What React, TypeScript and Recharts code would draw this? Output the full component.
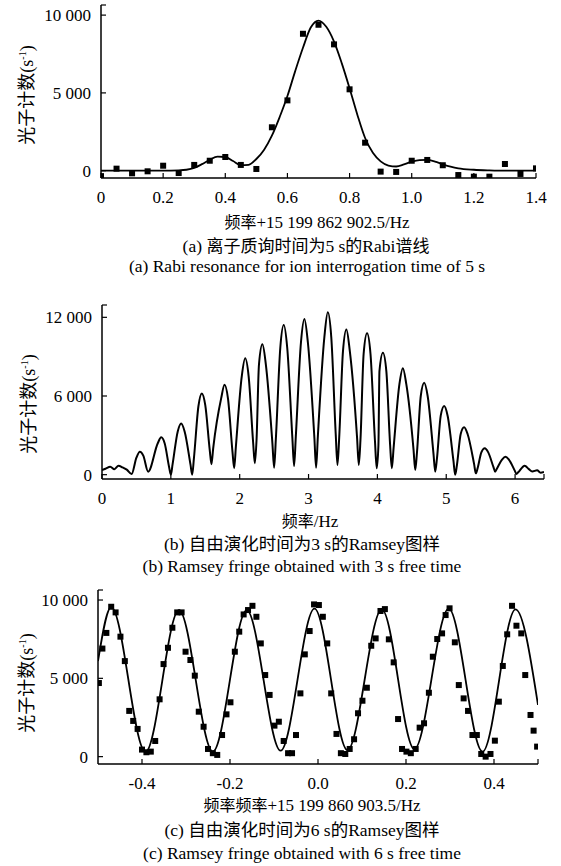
import React from "react";
import { ComposedChart, Line, Scatter, XAxis, YAxis } from "recharts";

const SERIF = "'Liberation Serif', 'Noto Sans CJK SC', serif";
const CJK = "'Noto Sans CJK SC', 'Liberation Serif', sans-serif";

// (a) Rabi 谱线
const A_PT_FREQ = [0, 0.05, 0.1, 0.15, 0.2, 0.25, 0.3, 0.35, 0.4, 0.45, 0.5, 0.55, 0.6, 0.65, 0.7, 0.75, 0.8, 0.85, 0.9, 0.95, 1.0, 1.05, 1.1, 1.15, 1.2, 1.25, 1.3, 1.35, 1.4];
const A_PT_COUNT = [-350, 130, -170, -40, 320, -150, 370, 640, 880, 370, 110, 2790, 4520, 8800, 9380, 8120, 5230, 1800, -60, -80, 640, 690, 350, -280, -385, -385, 430, -210, 150];
const A_FIT_FREQ = [0, 0.1, 0.2, 0.25, 0.275, 0.3, 0.325, 0.35, 0.375, 0.4, 0.425, 0.45, 0.475, 0.5, 0.525, 0.55, 0.575, 0.6, 0.625, 0.65, 0.675, 0.7, 0.725, 0.75, 0.775, 0.8, 0.825, 0.85, 0.875, 0.9, 0.925, 0.95, 0.975, 1.0, 1.025, 1.05, 1.075, 1.1, 1.125, 1.15, 1.2, 1.25, 1.3, 1.4];
const A_FIT_COUNT = [0, 0, 0, 20, 60, 180, 420, 700, 900, 880, 620, 360, 380, 750, 1350, 2250, 3450, 4800, 6400, 7900, 9200, 9650, 9250, 8300, 6900, 5300, 3600, 2100, 1150, 600, 330, 270, 400, 580, 680, 690, 580, 410, 260, 150, 60, 20, 0, 0];
const A_X_TICKS = [0, 0.2, 0.4, 0.6, 0.8, 1.0, 1.2, 1.4];
const A_Y_TICKS = [0, 5000, 10000];

// (b) Ramsey 3 s
const B_FREQ = [
  0, 0.05, 0.12, 0.18, 0.24, 0.3, 0.36, 0.43,
  0.5, 0.55, 0.6, 0.67,
  0.81, 0.86, 0.91, 0.975, 1.0, 1.025,
  1.1, 1.15, 1.2, 1.285, 1.31, 1.335,
  1.4, 1.45, 1.5, 1.565, 1.59, 1.615,
  1.73, 1.78, 1.83, 1.895, 1.92, 1.945,
  2.03, 2.08, 2.13, 2.195, 2.22, 2.245,
  2.28, 2.33, 2.38, 2.475, 2.5, 2.525,
  2.59, 2.64, 2.69, 2.765, 2.79, 2.815,
  2.89, 2.94, 2.99, 3.085, 3.11, 3.135,
  3.23, 3.28, 3.33, 3.395, 3.42, 3.445,
  3.5, 3.55, 3.6, 3.705, 3.73, 3.755,
  3.8, 3.85, 3.9, 3.965, 3.99, 4.015,
  4.03, 4.08, 4.13, 4.185, 4.21, 4.235,
  4.32, 4.37, 4.42, 4.525, 4.55, 4.575,
  4.63, 4.68, 4.73, 4.815, 4.84, 4.865,
  4.92, 4.97, 5.02, 5.105, 5.13, 5.155,
  5.21, 5.26, 5.31, 5.405, 5.43, 5.455,
  5.51, 5.56, 5.61, 5.685, 5.71, 5.735,
  5.81, 5.86, 5.91, 5.995, 6.02, 6.045,
  6.14, 6.2, 6.25, 6.32, 6.37, 6.42,
];
const B_COUNT = [
  350, 450, 610, 420, 690, 550, 380, 50,
  1300, 1750, 1450, 230,
  2400, 2850, 2400, 570, 0, 780,
  3300, 3900, 3300, 780, 0, 1240,
  5200, 6200, 5300, 1880, 800, 2010,
  5800, 6850, 5800, 1760, 490, 2170,
  7500, 8870, 7500, 2470, 870, 2680,
  8400, 9940, 8400, 2410, 530, 2710,
  9700, 11410, 9700, 2810, 660, 2900,
  10100, 11870, 10100, 2800, 530, 2900,
  10500, 12380, 10500, 3070, 740, 2810,
  9400, 11080, 9400, 2810, 740, 2750,
  9200, 10780, 9200, 2550, 490, 2250,
  7900, 9300, 7900, 2250, 490, 2010,
  6900, 8110, 6900, 1910, 360, 1690,
  6000, 7010, 6000, 1590, 230, 1230,
  4500, 5240, 4500, 1050, 0, 720,
  3100, 3610, 3100, 800, 100, 480,
  1700, 2010, 1700, 590, 230, 460,
  1150, 1370, 1150, 310, 50, 180,
  690, 420, 250, 330, 150, 200,
];
const B_X_TICKS = [0, 1, 2, 3, 4, 5, 6];
const B_Y_TICKS = [0, 6000, 12000];

// (c) Ramsey 6 s
const C_PT_FREQ = [-0.498, -0.49, -0.481, -0.47, -0.46, -0.449, -0.439, -0.429, -0.42, -0.41, -0.4, -0.39, -0.38, -0.37, -0.36, -0.351, -0.341, -0.331, -0.32, -0.31, -0.301, -0.29, -0.28, -0.271, -0.26, -0.25, -0.239, -0.229, -0.218, -0.208, -0.199, -0.189, -0.179, -0.169, -0.159, -0.149, -0.14, -0.13, -0.12, -0.11, -0.099, -0.089, -0.078, -0.068, -0.059, -0.05, -0.04, -0.03, -0.019, -0.009, 0.002, 0.011, 0.021, 0.03, 0.042, 0.052, 0.062, 0.072, 0.082, 0.091, 0.101, 0.111, 0.121, 0.131, 0.142, 0.152, 0.161, 0.172, 0.182, 0.191, 0.201, 0.211, 0.222, 0.231, 0.241, 0.252, 0.261, 0.271, 0.282, 0.29, 0.299, 0.311, 0.32, 0.331, 0.341, 0.351, 0.361, 0.371, 0.381, 0.392, 0.402, 0.411, 0.42, 0.43, 0.441, 0.451, 0.462, 0.471, 0.483, 0.49, 0.498];
const C_PT_COUNT = [4700, 6900, 7900, 9570, 9210, 7660, 6100, 2920, 2280, 1770, 450, 280, 320, 1000, 3660, 5910, 6950, 8230, 9210, 9210, 6700, 6170, 5170, 2870, 1910, 490, 220, 110, 1380, 2700, 3470, 6700, 7980, 9080, 9360, 9630, 8930, 7230, 5210, 3940, 1980, 2230, 1000, 220, 220, 1380, 4040, 6530, 8020, 9720, 9680, 8930, 7230, 4040, 1450, 220, 170, 490, 1110, 2770, 3570, 4400, 7080, 7550, 9300, 9420, 7490, 6020, 2400, 490, 320, 220, 490, 1850, 2130, 4080, 6380, 7510, 7870, 9040, 9470, 7300, 4570, 3720, 2920, 1380, 1380, 170, 0, 170, 1020, 3510, 5790, 7810, 9630, 8360, 7870, 5210, 2660, 1660, 640];
const C_FIT_FREQ = [-0.5, -0.47, -0.392, -0.316, -0.239, -0.162, -0.085, -0.008, 0.067, 0.145, 0.219, 0.297, 0.374, 0.449, 0.5];
const C_FIT_COUNT = [6100, 9550, 300, 9350, 320, 9350, 380, 9450, 420, 9400, 480, 9450, 320, 9400, 3300];
const C_X_TICKS = [-0.4, -0.2, 0, 0.2, 0.4];
const C_Y_TICKS = [0, 5000, 10000];

const zip = (xs: number[], ys: number[]) => xs.map((x, i) => ({ x, y: ys[i] }));

const fmtThousands = (v: number) =>
  v >= 1000 ? `${Math.floor(v / 1000)} ${String(v % 1000).padStart(3, "0")}` : String(v);

const tickStyle = { fontFamily: SERIF, fontSize: 17, fill: "#000", style: { fontFamily: SERIF } };
const axisLine = { stroke: "#000", strokeWidth: 1.5 };

const Square = (p: any) => (
  <rect x={p.cx - 3} y={p.cy - 3} width={6} height={6} fill="#000" />
);

const YTitle = ({ cx, cy }: { cx: number; cy: number }) => (
  <div
    style={{
      position: "absolute",
      left: cx - 80,
      top: cy - 12,
      width: 160,
      height: 24,
      textAlign: "center",
      transform: "rotate(-90deg)",
      fontFamily: CJK,
      fontSize: 18,
      lineHeight: "24px",
      whiteSpace: "nowrap",
    }}
  >
    光子计数<span style={{ fontFamily: SERIF }}>(s<sup style={{ fontSize: 10 }}>-1</sup>)</span>
  </div>
);

const TextLine = ({ cx, cy, size, children }: { cx: number; cy: number; size: number; children: React.ReactNode }) => (
  <div
    style={{
      position: "absolute",
      left: cx - 280,
      top: cy - 10,
      width: 560,
      height: 20,
      lineHeight: "20px",
      textAlign: "center",
      fontFamily: SERIF,
      fontSize: size,
      whiteSpace: "nowrap",
    }}
  >
    {children}
  </div>
);

const Zh = ({ children, size }: { children: React.ReactNode; size?: number }) => (
  <span style={{ fontFamily: CJK, fontSize: size }}>{children}</span>
);

function Panel({
  top, height, margin, yWidth, xDomain, yDomain, xTicks, yTicks, xFmt, fit, pts, lineWidth,
}: any) {
  const yMax = yDomain[1];
  const xMax = xDomain[1];
  return (
    <div style={{ position: "absolute", left: 0, top, fontFamily: SERIF }}>
      <ComposedChart width={561} height={height} margin={margin}>
        <XAxis
          type="number"
          dataKey="x"
          domain={xDomain}
          allowDataOverflow
          ticks={xTicks.includes(xMax) ? xTicks : [...xTicks, xMax]}
          tickFormatter={(v: number) => (v === xMax && !xTicks.includes(xMax) ? "" : xFmt(v))}
          tick={tickStyle}
          tickSize={-5}
          tickMargin={18}
          tickLine={{ stroke: "#000", strokeWidth: 1.2 }}
          axisLine={axisLine}
          height={30}
          interval={0}
        />
        <YAxis
          type="number"
          dataKey="y"
          domain={yDomain}
          allowDataOverflow
          ticks={[...yTicks, yMax]}
          tickFormatter={(v: number) => (v === yMax ? "" : fmtThousands(v))}
          tick={tickStyle}
          tickSize={-5}
          tickMargin={15}
          tickLine={{ stroke: "#000", strokeWidth: 1.2 }}
          axisLine={axisLine}
          width={yWidth}
          interval={0}
        />
        <Line
          data={fit}
          dataKey="y"
          type="monotone"
          stroke="#000"
          strokeWidth={lineWidth}
          dot={false}
          isAnimationActive={false}
        />
        {pts && (
          <Scatter data={pts} dataKey="y" shape={Square} isAnimationActive={false} />
        )}
      </ComposedChart>
    </div>
  );
}

export default function App() {
  return (
    <div style={{ position: "absolute", left: 0, top: 0, width: 561, height: 866, background: "#fff", overflow: "hidden" }}>
      <Panel
        top={0}
        height={215}
        margin={{ top: 5, right: 25, left: 10, bottom: 7 }}
        yWidth={91}
        xDomain={[0, 1.4]}
        yDomain={[-470, 10650]}
        xTicks={A_X_TICKS}
        yTicks={A_Y_TICKS}
        xFmt={(v: number) => (v === 0 ? "0" : v.toFixed(1))}
        fit={zip(A_FIT_FREQ, A_FIT_COUNT)}
        pts={zip(A_PT_FREQ, A_PT_COUNT)}
        lineWidth={1.8}
      />
      <YTitle cx={23} cy={95} />
      <TextLine cx={317} cy={221} size={17}><Zh size={16}>频率</Zh>+15 199 862 902.5/Hz</TextLine>
      <TextLine cx={306} cy={245} size={17.5}>(a) <Zh size={17}>离子质询时间为</Zh>5 s<Zh size={17}>的</Zh>Rabi<Zh size={17}>谱线</Zh></TextLine>
      <TextLine cx={307} cy={266} size={17.5}>(a) Rabi resonance for ion interrogation time of 5 s</TextLine>

      <Panel
        top={300}
        height={215}
        margin={{ top: 5, right: 17, left: 10, bottom: 6 }}
        yWidth={92}
        xDomain={[0, 6.42]}
        yDomain={[-330, 12940]}
        xTicks={B_X_TICKS}
        yTicks={B_Y_TICKS}
        xFmt={(v: number) => String(v)}
        fit={zip(B_FREQ, B_COUNT)}
        pts={null}
        lineWidth={2}
      />
      <YTitle cx={25} cy={404} />
      <TextLine cx={310} cy={520} size={17}><Zh size={16}>频率</Zh>/Hz</TextLine>
      <TextLine cx={302} cy={543} size={17.5}>(b) <Zh>自由演化时间为</Zh>3 s<Zh>的</Zh>Ramsey<Zh>图样</Zh></TextLine>
      <TextLine cx={302} cy={566} size={17.5}>(b) Ramsey fringe obtained with 3 s free time</TextLine>

      <Panel
        top={585}
        height={215}
        margin={{ top: 5, right: 23, left: 10, bottom: 6 }}
        yWidth={88}
        xDomain={[-0.5, 0.5]}
        yDomain={[-470, 10640]}
        xTicks={C_X_TICKS}
        yTicks={C_Y_TICKS}
        xFmt={(v: number) => v.toFixed(1)}
        fit={zip(C_FIT_FREQ, C_FIT_COUNT)}
        pts={zip(C_PT_FREQ, C_PT_COUNT)}
        lineWidth={1.8}
      />
      <YTitle cx={23} cy={683} />
      <TextLine cx={312} cy={804} size={17}><Zh size={16}>频率频率</Zh>+15 199 860 903.5/Hz</TextLine>
      <TextLine cx={302} cy={829} size={17.5}>(c) <Zh>自由演化时间为</Zh>6 s<Zh>的</Zh>Ramsey<Zh>图样</Zh></TextLine>
      <TextLine cx={302} cy={853} size={17.5}>(c) Ramsey fringe obtained with 6 s free time</TextLine>
    </div>
  );
}
